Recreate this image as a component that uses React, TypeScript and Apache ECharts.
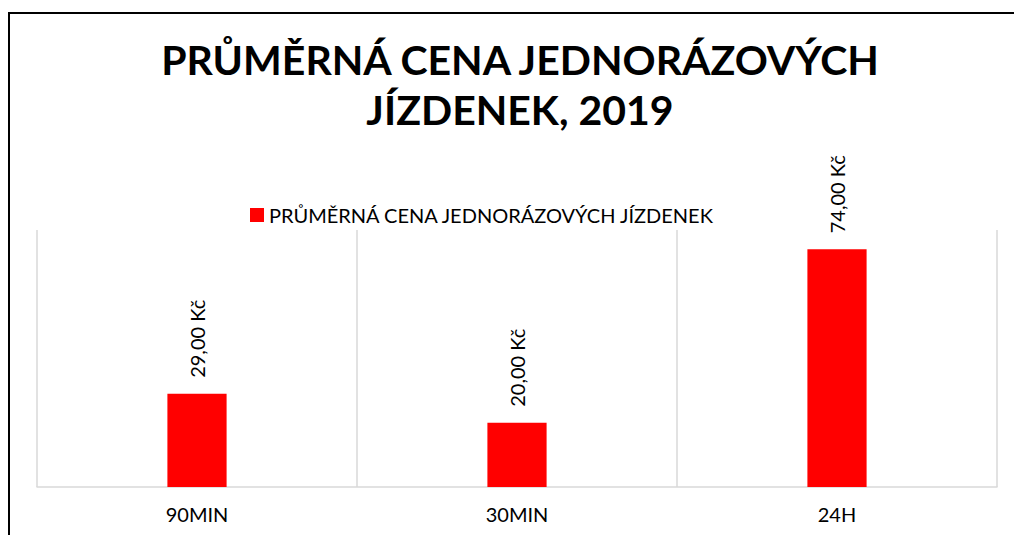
import React, { useEffect, useRef } from "react";
import * as echarts from "echarts";

const categories = ["90MIN", "30MIN", "24H"];
const values = [29, 20, 74];
const seriesName = "PRŮMĚRNÁ CENA JEDNORÁZOVÝCH JÍZDENEK";
const titleText = "PRŮMĚRNÁ CENA JEDNORÁZOVÝCH\nJÍZDENEK, 2019";

export default function App() {
  const ref = useRef<HTMLDivElement>(null);
  useEffect(() => {
    const chart = echarts.init(ref.current!, null, { renderer: "svg" });
    chart.setOption({
      animation: false,
      backgroundColor: "#ffffff",
      title: {
        text: titleText,
        left: 515,
        top: 29,
        textAlign: "center",
        textStyle: {
          fontFamily: "Lato",
          fontWeight: "bold",
          fontSize: 41,
          lineHeight: 50,
          color: "#000000",
        },
      },
      legend: {
        top: 200,
        left: 245,
        itemWidth: 14,
        itemHeight: 14,
        itemGap: 6,
        icon: "rect",
        textStyle: { fontFamily: "Lato", fontSize: 20, color: "#000000" },
        data: [seriesName],
      },
      grid: { left: 37, right: 17, top: 230, bottom: 48 },
      xAxis: {
        type: "category",
        data: categories,
        axisLine: { lineStyle: { color: "#d9d9d9", width: 1.5 } },
        axisTick: { show: false },
        splitLine: { show: true, lineStyle: { color: "#d9d9d9", width: 1.5 } },
        axisLabel: {
          fontFamily: "Lato",
          fontSize: 20,
          color: "#000000",
          margin: 17,
        },
      },
      yAxis: {
        type: "value",
        min: 0,
        max: 80,
        show: false,
      },
      series: [
        {
          name: seriesName,
          type: "bar",
          data: values,
          barWidth: "18.5%",
          itemStyle: { color: "#ff0000" },
          label: {
            show: true,
            position: "top",
            rotate: 90,
            align: "left",
            verticalAlign: "middle",
            distance: 16,
            fontFamily: "Lato",
            fontSize: 20,
            color: "#000000",
            formatter: (p: any) => p.value.toFixed(2).replace(".", ",") + " Kč",
          },
        },
      ],
      graphic: [
        {
          type: "rect",
          shape: { x: 9, y: 13, width: 1020, height: 540 },
          style: { fill: "none", stroke: "#000000", lineWidth: 2 },
          silent: true,
        },
      ],
    });
    return () => chart.dispose();
  }, []);
  return (
    <div
      ref={ref}
      style={{ position: "absolute", left: 0, top: 0, width: 1014, height: 535 }}
    />
  );
}
